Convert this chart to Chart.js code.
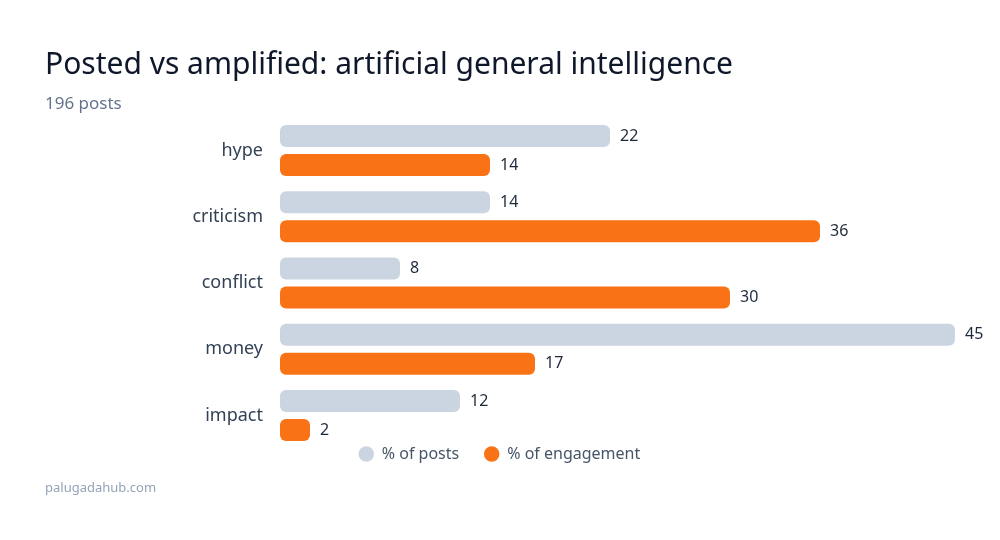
<!DOCTYPE html>
<html>
<head>
<meta charset="utf-8">
<script src="https://cdn.jsdelivr.net/npm/chart.js@4"></script>
<style>
  html, body { margin: 0; padding: 0; background: #ffffff; }
  #wrap { position: relative; width: 1000px; height: 540px; overflow: hidden; font-family: "Noto Sans", sans-serif; }
  #chart { position: absolute; left: 0; top: 0; width: 1000px; height: 540px; }
  .txt { position: absolute; left: 45px; line-height: 1; white-space: nowrap; }
  #title { top: 48px; font-size: 30px; color: #0f172a; }
  #subtitle { top: 94px; font-size: 17px; color: #64748b; }
  #footer { top: 481px; font-size: 13px; color: #94a3b8; }
</style>
</head>
<body>
<div id="wrap">
  <canvas id="chart" width="1000" height="540"></canvas>
  <div id="title" class="txt">Posted vs amplified: artificial general intelligence</div>
  <div id="subtitle" class="txt">196 posts</div>
  <div id="footer" class="txt">palugadahub.com</div>
</div>
<script>
const categories = ["hype", "criticism", "conflict", "money", "impact"];
const postsShare = [22, 14, 8, 45, 12];
const engagementShare = [14, 36, 30, 17, 2];
const seriesNames = ["% of posts", "% of engagement"];
const seriesColors = ["#cbd5e1", "#f97316"];

const FONT = "'Noto Sans', sans-serif";

const valueLabels = {
  id: 'valueLabels',
  afterDatasetsDraw(chart) {
    const ctx = chart.ctx;
    ctx.save();
    ctx.font = "16px " + FONT;
    ctx.fillStyle = "#1e293b";
    ctx.textAlign = "left";
    ctx.textBaseline = "middle";
    chart.data.datasets.forEach((ds, di) => {
      const meta = chart.getDatasetMeta(di);
      meta.data.forEach((bar, i) => {
        ctx.fillText(String(ds.data[i]), bar.x + 10, bar.y);
      });
    });
    ctx.restore();
  }
};

const legendNudge = {
  id: 'legendNudge',
  afterLayout(chart) {
    const l = chart.legend;
    if (l) {
      l.top -= 27.6; l.bottom -= 27.6;
      l.left += 22; l.right += 22;
    }
  }
};

new Chart(document.getElementById('chart'), {
  type: 'bar',
  data: {
    labels: categories,
    datasets: [
      { label: seriesNames[0], data: postsShare, backgroundColor: seriesColors[0] },
      { label: seriesNames[1], data: engagementShare, backgroundColor: seriesColors[1] }
    ]
  },
  options: {
    indexAxis: 'y',
    responsive: false,
    animation: false,
    devicePixelRatio: 1,
    layout: { padding: { top: 117.4, right: 45, bottom: 40.4, left: 0 } },
    datasets: {
      bar: {
        categoryPercentage: 0.8755,
        barPercentage: 0.7586,
        borderRadius: 6,
        borderSkipped: false
      }
    },
    scales: {
      x: {
        display: false,
        min: 0,
        max: 45
      },
      y: {
        grid: { display: false, drawTicks: false },
        border: { display: false },
        ticks: { padding: 17, color: "#334155", font: { family: FONT, size: 18 } },
        afterFit(scale) { scale.width = 280; }
      }
    },
    plugins: {
      legend: {
        position: 'bottom',
        labels: {
          usePointStyle: true,
          pointStyle: 'circle',
          boxWidth: 15,
          boxHeight: 11,
          padding: 25,
          color: "#475569",
          font: { family: FONT, size: 16 }
        }
      },
      tooltip: { enabled: false },
      title: { display: false }
    }
  },
  plugins: [valueLabels, legendNudge]
});
</script>
</body>
</html>
